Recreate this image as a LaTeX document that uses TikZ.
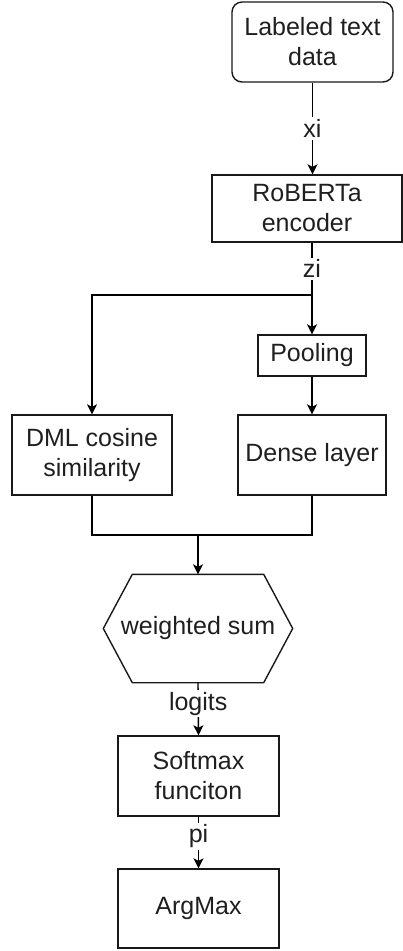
\documentclass[tikz,border=0pt]{standalone}
\usepackage{fontspec}
\setmainfont{Liberation Sans}
\usetikzlibrary{arrows.meta}
\begin{document}
\begin{tikzpicture}[x=1pt,y=-1pt, line width=1.4pt,
  box/.style={draw=black!90, line width=1.4pt, align=center, inner sep=0pt,
              font=\fontsize{25}{30}\selectfont, text=black!88},
  arr/.style={-{Stealth[length=10pt,width=10pt,inset=2.5pt]}},
  lbl/.style={fill=white, inner sep=2pt, text=black!88, font=\fontsize{25}{30}\selectfont}]
\useasboundingbox (0,0) rectangle (403,951);
\node[box, rounded corners=10pt, minimum width=161pt, minimum height=80pt] (lab) at (312.5,42) {Labeled text\\data};
\node[box, minimum width=190pt, minimum height=67pt] (rob) at (307,208.5) {RoBERTa\\encoder};
\node[box, minimum width=108pt, minimum height=41pt] (pool) at (312,355.5) {Pooling};
\node[box, minimum width=160pt, minimum height=80pt] (dml) at (92,455) {DML cosine\\similarity};
\node[box, minimum width=148pt, minimum height=80pt] (dense) at (312,455) {Dense layer};
\node[box, draw=none, minimum width=188pt, minimum height=107pt] (hex) at (198,628.5) {weighted sum};
\draw[draw=black!90] (hex.west) -- ([xshift=29pt]hex.north west) -- ([xshift=-29pt]hex.north east) -- (hex.east) -- ([xshift=-29pt]hex.south east) -- ([xshift=29pt]hex.south west) -- cycle;
\node[box, minimum width=161pt, minimum height=80pt] (soft) at (198.5,776) {Softmax\\funciton};
\node[box, minimum width=161pt, minimum height=79pt] (arg) at (198.5,908.5) {ArgMax};
\coordinate (J) at (312,295);
\coordinate (M) at (198,535);
\draw[arr] (lab.south) -- node[lbl]{xi} (lab.south |- rob.north);
\draw (rob.south -| J) -- node[lbl]{zi} (J);
\draw[arr] (J) -- (pool.north);
\draw[arr] (J) -- (J -| dml.north) -- (dml.north);
\draw[arr] (pool.south) -- (dense.north);
\draw (dml.south) -- (dml.south |- M) -- (dense.south |- M) -- (dense.south);
\draw[arr] (M) -- (hex.north);
\draw[arr] (hex.south) -- node[lbl,pos=0.4]{logits} (soft.north);
\draw[arr] (soft.south) -- node[lbl,pos=0.38]{pi} (arg.north);
\end{tikzpicture}
\end{document}
